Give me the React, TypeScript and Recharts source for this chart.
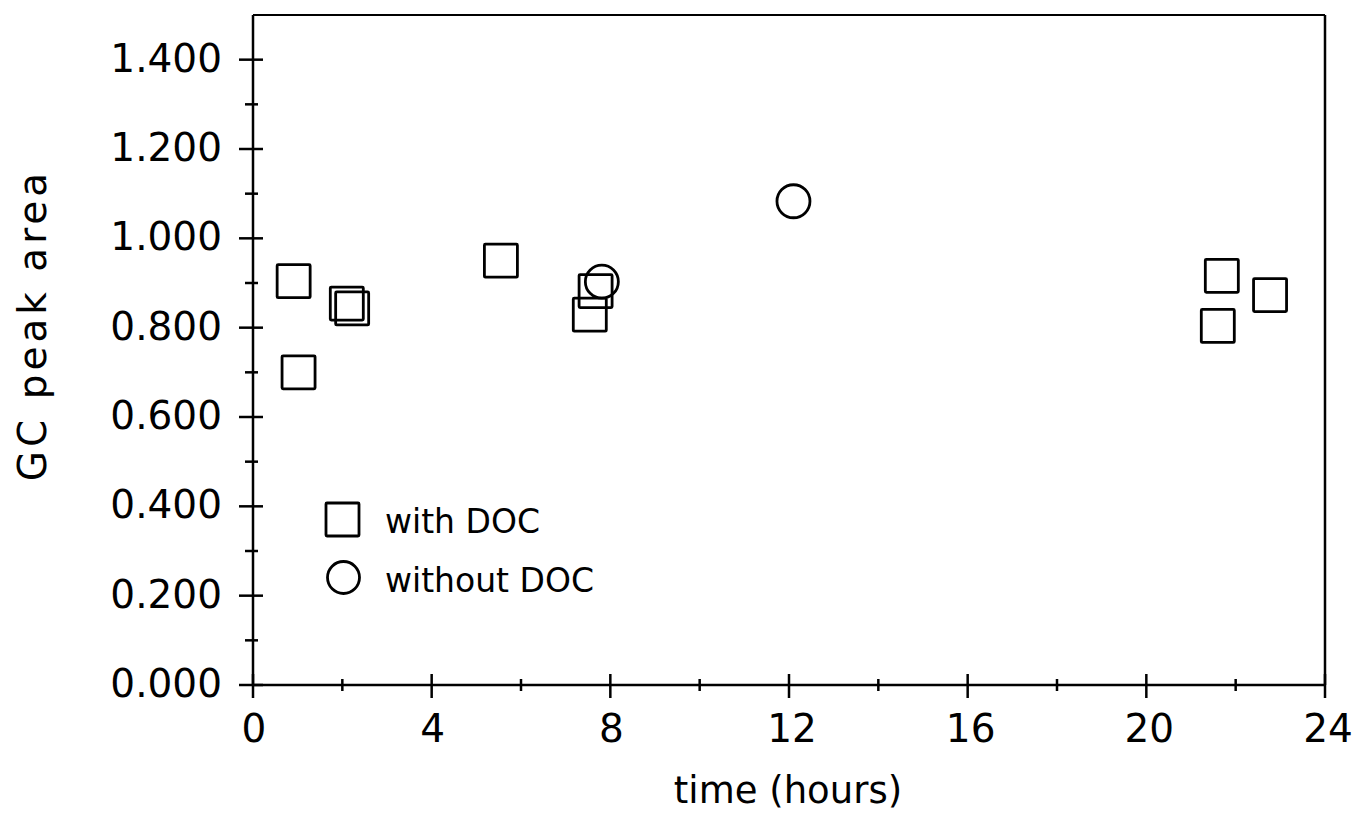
import React from "react";
import { ScatterChart, Scatter, XAxis, YAxis, ReferenceLine, Legend, Label } from "recharts";

const withDocTimes = [0.91, 1.02, 2.1, 2.22, 5.55, 7.54, 7.67, 21.6, 21.69, 22.77];
const withDocAreas = [0.904, 0.7, 0.854, 0.843, 0.95, 0.829, 0.882, 0.804, 0.916, 0.873];
const withoutDocTimes = [7.81, 12.1];
const withoutDocAreas = [0.903, 1.083];

const xTicks = [0, 2, 4, 6, 8, 10, 12, 14, 16, 18, 20, 22, 24];
const yTicks = [0, 0.1, 0.2, 0.3, 0.4, 0.5, 0.6, 0.7, 0.8, 0.9, 1.0, 1.1, 1.2, 1.3, 1.4];

const withDoc = withDocTimes.map((t, i) => ({ x: t, y: withDocAreas[i] }));
const withoutDoc = withoutDocTimes.map((t, i) => ({ x: t, y: withoutDocAreas[i] }));

const FONT = "'DejaVu Sans', sans-serif";

const YTick = (props: any) => {
  const { x, y, payload } = props;
  const v = payload.value as number;
  const major = Math.round(v * 10) % 2 === 0;
  return (
    <g>
      <line x1={x - (major ? 14 : 8)} x2={x + (major ? 10 : 5)} y1={y} y2={y} stroke="#000" strokeWidth={2.5} />
      {major && (
        <text x={x - 31} y={y + 12} textAnchor="end" fontFamily={FONT} fontSize={39} fill="#000">
          {v.toFixed(3)}
        </text>
      )}
    </g>
  );
};

const XTick = (props: any) => {
  const { x, y, payload } = props;
  const v = payload.value as number;
  const major = v % 4 === 0;
  return (
    <g>
      <line x1={x} x2={x} y1={y - (major ? 11 : 6)} y2={y + (major ? 13 : 6)} stroke="#000" strokeWidth={2.5} />
      {major && (
        <text x={x + (v >= 10 ? 3 : 1)} y={y + 57} textAnchor="middle" fontFamily={FONT} fontSize={39} fill="#000">
          {String(v)}
        </text>
      )}
    </g>
  );
};

const SquareShape = (props: any) => {
  const { cx, cy } = props;
  return <rect x={cx - 16.5} y={cy - 16.5} width={33} height={33} fill="none" stroke="#000" strokeWidth={2.8} rx={1} />;
};

const CircleShape = (props: any) => {
  const { cx, cy } = props;
  return <circle cx={cx} cy={cy} r={16.5} fill="none" stroke="#000" strokeWidth={2.8} />;
};

const LegendContent = () => (
  <svg width={300} height={110} style={{ display: "block" }}>
    <rect x={8} y={10} width={33} height={33} fill="none" stroke="#000" strokeWidth={2.8} rx={1} />
    <text x={67} y={40} fontFamily={FONT} fontSize={33} fill="#000">with DOC</text>
    <circle cx={25.5} cy={84.5} r={16} fill="none" stroke="#000" strokeWidth={2.8} />
    <text x={67} y={99} fontFamily={FONT} fontSize={33} fill="#000">without DOC</text>
  </svg>
);

export default function App() {
  return (
    <div style={{ position: "absolute", left: 0, top: 0, width: 1357, height: 814, overflow: "hidden" }}>
      <ScatterChart width={1357} height={814} margin={{ top: 15, right: 32, left: 0, bottom: 0 }}>
        <XAxis
          type="number"
          dataKey="x"
          domain={[0, 24]}
          ticks={xTicks}
          interval={0}
          tickSize={0}
          tickMargin={0}
          tick={<XTick />}
          height={129}
          axisLine={{ stroke: "#000", strokeWidth: 2.5 }}
          allowDataOverflow
        >
          <Label
            content={() => (
              <text x={788} y={803} textAnchor="middle" fontFamily={FONT} fontSize={37} fill="#000">
                time (hours)
              </text>
            )}
          />
        </XAxis>
        <YAxis
          type="number"
          dataKey="y"
          domain={[0, 1.5]}
          ticks={yTicks}
          interval={0}
          tickSize={0}
          tickMargin={0}
          tick={<YTick />}
          width={253}
          axisLine={{ stroke: "#000", strokeWidth: 2.5 }}
          allowDataOverflow
        >
          <Label
            content={() => (
              <text
                x={46}
                y={325}
                transform="rotate(-90 46 325)"
                textAnchor="middle"
                fontFamily={FONT}
                fontSize={39}
                letterSpacing={4}
                fill="#000"
              >
                GC peak area
              </text>
            )}
          />
        </YAxis>
        <ReferenceLine y={1.5} stroke="#000" strokeWidth={2} />
        <ReferenceLine x={24} stroke="#000" strokeWidth={2.5} />
        <Scatter name="with DOC" data={withDoc} shape={<SquareShape />} isAnimationActive={false} />
        <Scatter name="without DOC" data={withoutDoc} shape={<CircleShape />} isAnimationActive={false} />
        <Legend
          layout="vertical"
          align="center"
          verticalAlign="middle"
          content={<LegendContent />}
          wrapperStyle={{ position: "absolute", left: 318, top: 493, width: 300, height: 110 }}
        />
      </ScatterChart>
    </div>
  );
}
